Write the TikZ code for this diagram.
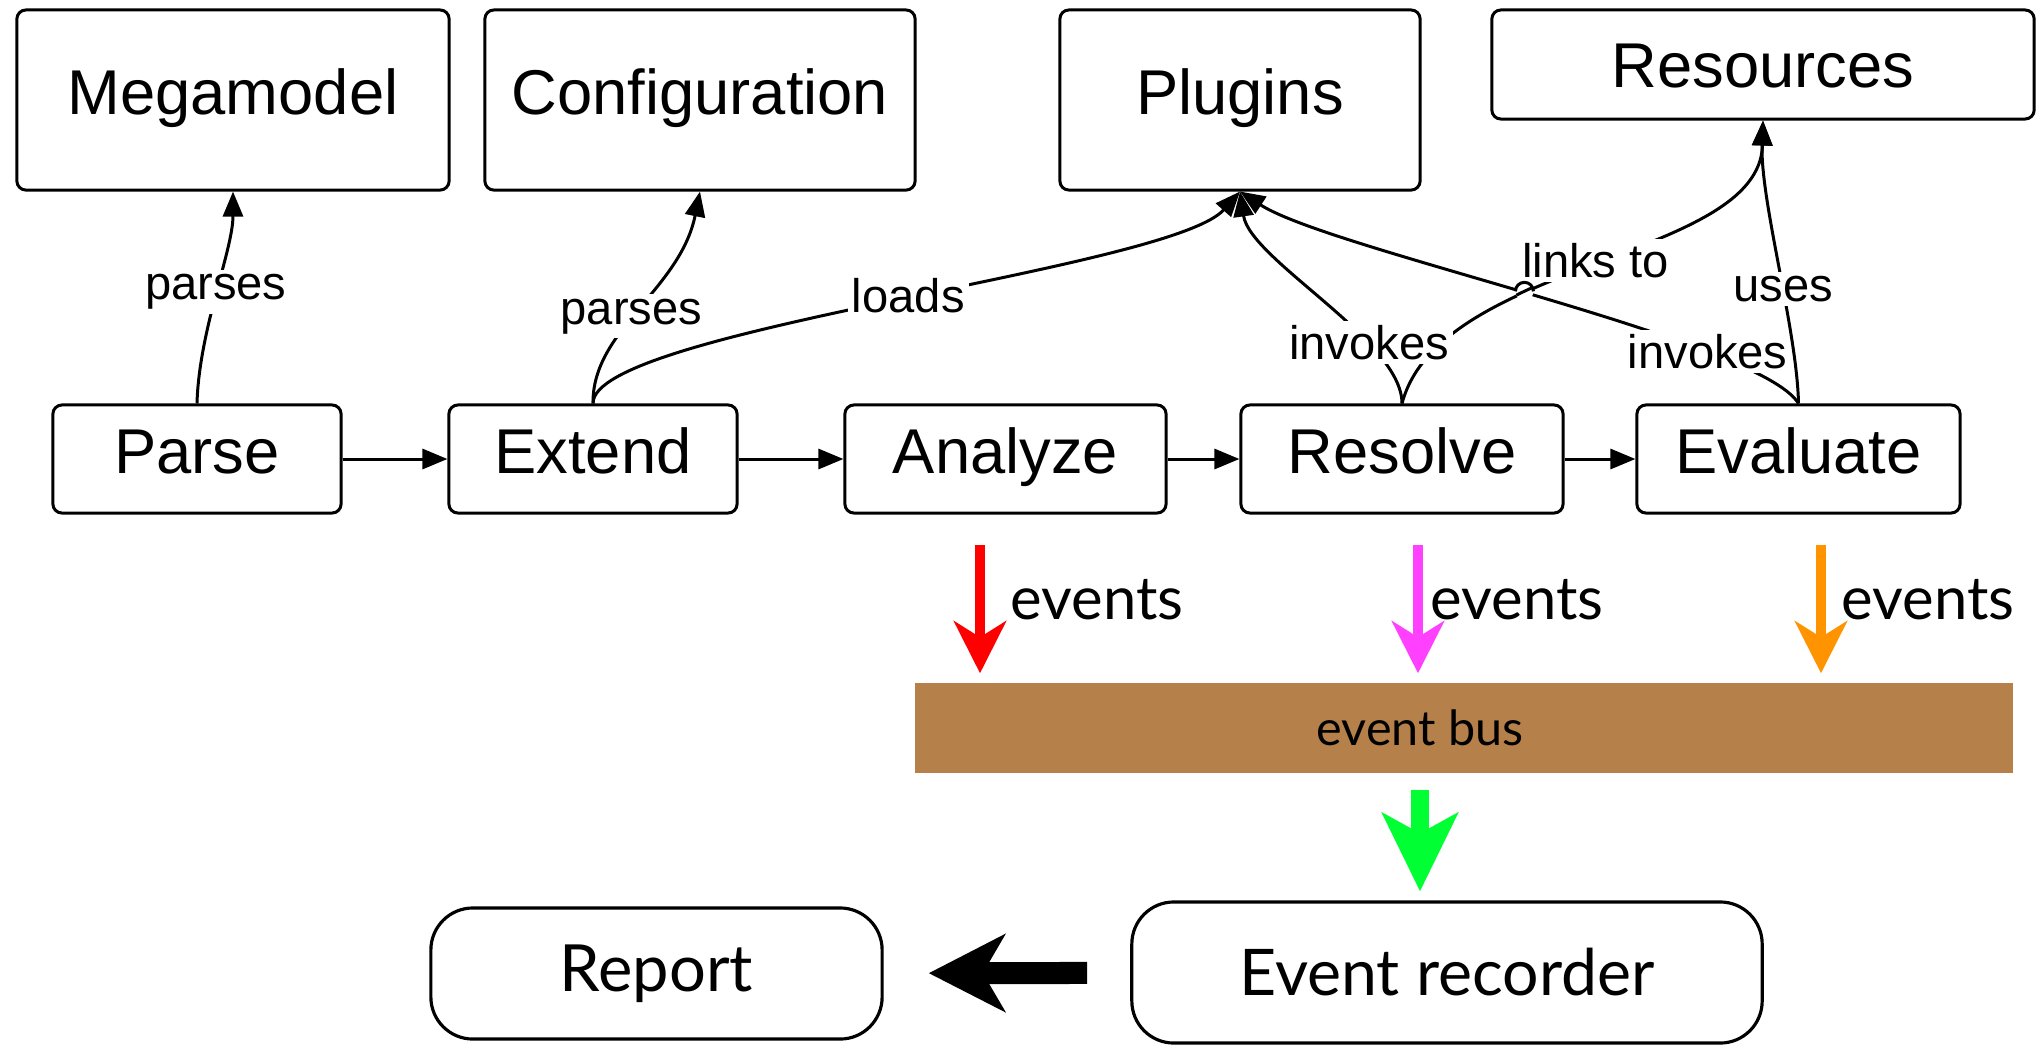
\documentclass[tikz,border=0pt]{standalone}
\usepackage{fontspec}
\setmainfont{Liberation Sans}
\newfontfamily\gillf{Lato}
\usetikzlibrary{arrows.meta,intersections}
\definecolor{busbrown}{RGB}{181,128,74}
\definecolor{evmag}{RGB}{255,64,255}
\definecolor{evorange}{RGB}{255,147,0}
\definecolor{evgreen}{RGB}{0,255,51}
\begin{document}
\begin{tikzpicture}[x=0.01cm,y=-0.01cm,
  box/.style={draw, line width=0.85pt, rounded corners=0.09cm, font=\fontsize{18}{20}\selectfont, text height=13pt, text depth=5pt, inner sep=0pt},
  lbl/.style={fill=white, inner sep=1.2pt, font=\fontsize{13.4}{15}\selectfont},
  conn/.style={line width=0.85pt, -{Triangle[length=0.25cm,width=0.2cm]}},
  bigbox/.style={draw, line width=0.9pt, rounded corners=0.42cm, inner sep=0pt, font=\gillf\fontsize{18.3}{21}\selectfont},
  evlbl/.style={inner sep=0pt, font=\gillf\fontsize{17}{20}\selectfont},
  evarrow/.style={line width=0.1cm, -{Stealth[length=0.52cm,width=0.52cm,inset=0.16cm]}}
]
\useasboundingbox (0,0) rectangle (2039,1045);

% top boxes
\node[box, minimum width=4.32cm, minimum height=1.80cm] (mega) at (233,100) {Megamodel};
\node[box, minimum width=4.30cm, minimum height=1.80cm] (conf) at (700,100) {Configuration};
\node[box, minimum width=3.60cm, minimum height=1.80cm] (plug) at (1240,100) {Plugins};
\node[box, minimum width=5.42cm, minimum height=1.09cm, text depth=0pt] (res) at (1763,64.5) {Resources};

% process row
\node[box, minimum width=2.88cm, minimum height=1.08cm] (parse) at (197,459) {Parse};
\node[box, minimum width=2.88cm, minimum height=1.08cm] (ext) at (593,459) {Extend};
\node[box, minimum width=3.21cm, minimum height=1.08cm] (ana) at (1005.5,459) {Analyze};
\node[box, minimum width=3.22cm, minimum height=1.08cm] (resv) at (1402,459) {Resolve};
\node[box, minimum width=3.23cm, minimum height=1.08cm] (eval) at (1798.5,459) {Evaluate};

\draw[conn] (parse) -- (ext);
\draw[conn] (ext) -- (ana);
\draw[conn] (ana) -- (resv);
\draw[conn] (resv) -- (eval);

% upward connectors
\draw[conn] (parse.north) .. controls (199,330) and (233,250) .. (mega.south) node[lbl,pos=0.5] {parses};
\draw[conn] (ext.north) .. controls (592,330) and (680,290) .. (conf.south) node[lbl,pos=0.45] {parses};
\draw[conn] (ext.north) .. controls (592,330) and (1170,270) .. (plug.south) node[lbl,pos=0.52] {loads};
\draw[conn, name path=linkp] (resv.north) .. controls (1440,260) and (1760,260) .. (res.south) node[lbl,pos=0.5] {links to};
\draw[conn, name path=evalp] (eval.north) .. controls (1760,340) and (1330,250) .. (plug.south) node[lbl,pos=0.25] {invokes};
\draw[conn] (resv.north) .. controls (1402,340) and (1250,260) .. (plug.south) node[lbl,pos=0.3] {invokes};
\draw[conn] (eval.north) .. controls (1797,330) and (1760,200) .. (res.south) node[lbl,pos=0.42] {uses};

% line hop
\path[name intersections={of=linkp and evalp, by=X}];
\fill[white] (X) circle (9);
\begin{scope}
\clip (X) circle (9);
\draw[line width=0.85pt] (resv.north) .. controls (1440,260) and (1760,260) .. (res.south);
\end{scope}
\draw[line width=0.85pt] ([xshift=-0.09cm]X) arc[start angle=180,end angle=360,radius=9];

% event bus
\node[fill=busbrown, minimum width=10.98cm, minimum height=0.90cm, inner sep=0pt] (bus) at (1464,728) {};
\node[inner sep=0pt, font=\gillf\fontsize{13.8}{16}\selectfont] (bustxt) at (1420,728) {event bus};

\coordinate (e1) at (980,545);
\coordinate (e2) at (1418,545);
\coordinate (e3) at (1821,545);
\draw[evarrow, red, shorten >=0.09cm] (e1) -- (e1 |- bus.north);
\draw[evarrow, evmag, shorten >=0.09cm] (e2) -- (e2 |- bus.north);
\draw[evarrow, evorange, shorten >=0.09cm] (e3) -- (e3 |- bus.north);
\node[evlbl] (ev1) at (1097,600) {events};
\node[evlbl] (ev2) at (1517,600) {events};
\node[evlbl] (ev3) at (1928,600) {events};

% recorder and report
\node[bigbox, minimum width=6.30cm, minimum height=1.41cm] (rec) at (1447,972.5) {Event recorder};
\node[bigbox, minimum width=4.51cm, minimum height=1.31cm, font=\gillf\fontsize{18.5}{21}\selectfont] (rep) at (656.5,973.5) {Report};

\coordinate (g1) at (1420,790);
\draw[line width=0.18cm, evgreen, -{Stealth[length=0.78cm,width=0.75cm,inset=0.2cm]}, shorten >=0.09cm] (g1) -- (g1 |- rec.north);
\draw[line width=0.22cm, -{Stealth[length=0.76cm,width=0.77cm,inset=0.22cm]}, shorten <=0.43cm, shorten >=0.45cm] (rec) -- (rep);
\end{tikzpicture}
\end{document}
